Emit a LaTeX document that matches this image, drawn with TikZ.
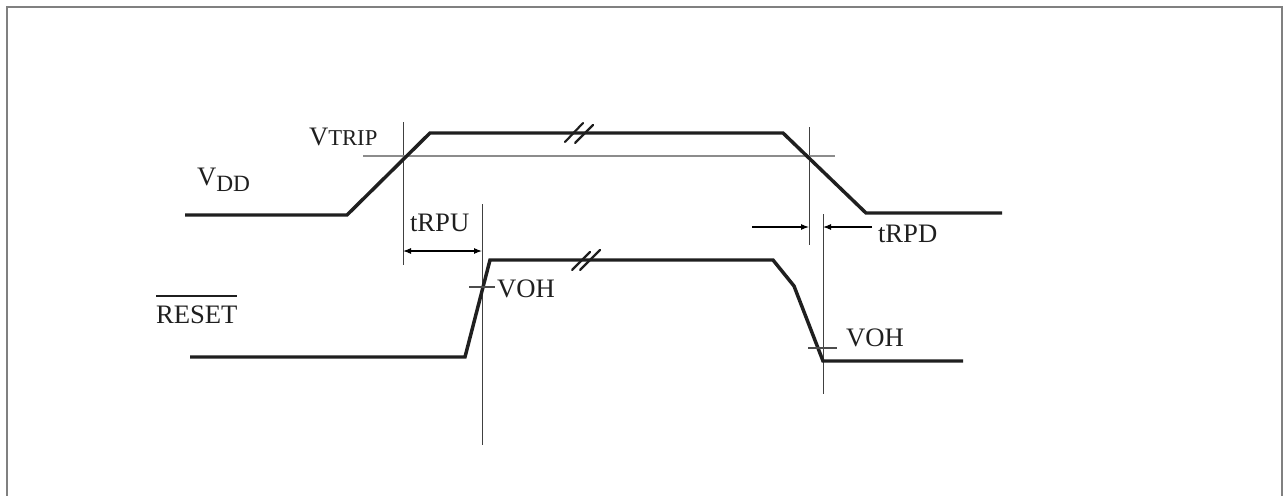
\documentclass[tikz,border=0pt]{standalone}
\usepackage{fontspec}
\setmainfont{Liberation Serif}
\usetikzlibrary{arrows.meta}
\begin{document}
\begin{tikzpicture}[x=0.75pt,y=-0.75pt,
  wave/.style={line width=2.6pt, draw=black!88, line join=miter},
  brk/.style={line width=1.6pt, draw=black!88, line cap=round},
  guide/.style={line width=0.75pt, draw=black!75},
  tripline/.style={line width=0.8pt, draw=black!45},
  tick/.style={line width=0.8pt, draw=black!70},
  frame/.style={line width=1.5pt, draw=black!50},
  lbl/.style={inner sep=0pt, outer sep=0pt, anchor=base west, font=\fontsize{20}{24}\selectfont, text=black!88},
  dimarrow/.style={line width=0.8pt, draw=black, -{Latex[length=6pt,width=4.5pt]}},
  dimboth/.style={line width=0.8pt, draw=black, {Latex[length=6pt,width=4.5pt]}-{Latex[length=6pt,width=4.5pt]}},
]
\useasboundingbox (0,0) rectangle (1283,496);
\fill[white] (0,0) rectangle (1283,496);
\draw[frame] (7,520) -- (7,7) -- (1282,7) -- (1282,520);

% guide lines
\coordinate (v1t) at (403,122); \coordinate (v1b) at (403,265);
\coordinate (v2t) at (809,127); \coordinate (v2b) at (809,245);
\coordinate (v3t) at (482,204); \coordinate (v3b) at (482,445);
\coordinate (v4t) at (823,214); \coordinate (v4b) at (823,394);
\draw[guide] (v1t) -- (v1b);
\draw[guide] (v2t) -- (v2b);
\draw[guide] (v3t) -- (v3b);
\draw[guide] (v4t) -- (v4b);
\coordinate (tripL) at (363,156); \coordinate (tripR) at (835,156);
\draw[tripline] (tripL) -- (tripR);

% VDD waveform
\draw[wave] (185,215) -- (347,215) -- (430,133) -- (783,133) -- (866,213) -- (1002,213);
\draw[brk] (565,142) -- (583,123);
\draw[brk] (575,143) -- (593,125);

% RESET waveform
\draw[wave] (190,357) -- (465,357) -- (490,260) -- (773,260) -- (794,286) -- (823,361) -- (963,361);
\draw[brk] (572,270) -- (590,252);
\draw[brk] (580,270) -- (600,250);

% VOH ticks
\coordinate (t1a) at (469,287); \coordinate (t1b) at (495,287);
\coordinate (t2a) at (808,348); \coordinate (t2b) at (837,348);
\draw[tick] (t1a) -- (t1b);
\draw[tick] (t2a) -- (t2b);

% timing arrows
\coordinate (rpuL) at (403,251); \coordinate (rpuR) at (482,251);
\draw[dimboth] (rpuL) -- (rpuR);
\coordinate (rpdA) at (752,227); \coordinate (rpdB) at (809,227);
\coordinate (rpdC) at (872,227); \coordinate (rpdD) at (823,227);
\draw[dimarrow] (rpdA) -- (rpdB);
\draw[dimarrow] (rpdC) -- (rpdD);

% labels
\node[lbl] (vtrip) at (309,145) {V{\fontsize{17}{19}\selectfont TRIP}};
\node[lbl] (vdd) at (197,185) {V\raisebox{-4.5pt}{\fontsize{17.5}{20}\selectfont DD}};
\node[lbl] (reset) at (156,323) {RESET};
\draw[line width=0.8pt, draw=black!88] ([yshift=7pt]reset.north west) -- ([yshift=7pt]reset.north east);
\node[lbl] (trpu) at (410,231) {tRPU};
\node[lbl] (trpd) at (878,242) {tRPD};
\node[lbl] (voh1) at (497,297) {VOH};
\node[lbl] (voh2) at (846,346) {VOH};
\end{tikzpicture}
\end{document}
